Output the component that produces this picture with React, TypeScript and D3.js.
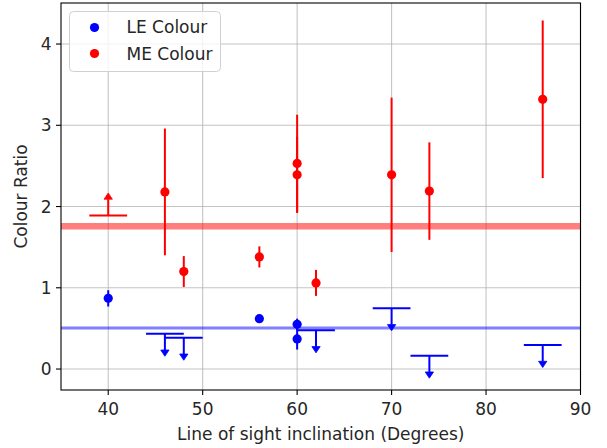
import React from "react";
import * as d3 from "d3";

// LE Colour detections
const leX = [40, 56, 60, 60];
const leY = [0.87, 0.62, 0.55, 0.37];
const leErr = [0.10, 0.04, 0.07, 0.13];
// LE Colour upper limits
const leLimX = [46, 48, 62, 70, 74, 86];
const leLimY = [0.434, 0.385, 0.476, 0.747, 0.164, 0.295];
// ME Colour detections
const meX = [46, 48, 56, 60, 60, 62, 70, 74, 86];
const meY = [2.18, 1.20, 1.38, 2.53, 2.39, 1.06, 2.39, 2.19, 3.32];
const meErr = [0.78, 0.19, 0.13, 0.60, 0.47, 0.16, 0.95, 0.60, 0.97];
// ME Colour lower limits
const meLimX = [40];
const meLimY = [1.89];
const limXErr = 2;
const limYErr = 0.2;
// mean lines
const leMean = 0.505;
const meMean = 1.756;

const xTicks = [40, 50, 60, 70, 80, 90];
const yTicks = [0, 1, 2, 3, 4];
const xDomain = [35, 90];
const yDomain = [-0.258, 4.505];

const W = 607;
const H = 448;
const L = 61, R = 580.5, T = 3, B = 390;
const FONT = "DejaVu Sans, sans-serif";
const FS = 17;
const BLUE = "#0000ff";
const RED = "#ff0000";

export default function App() {
  const x = d3.scaleLinear().domain(xDomain).range([L, R]);
  const y = d3.scaleLinear().domain(yDomain).range([B, T]);
  const tri = (cx: number, by: number, dir: number, s = 8.3) => {
    // base at by, tip pointing dir (-1 up, +1 down)
    const h = 0.75 * s;
    return `M${cx - s / 2},${by}L${cx + s / 2},${by}L${cx},${by + dir * h}Z`;
  };
  return (
    <svg width={W} height={H} style={{ position: "absolute", left: 0, top: 0, background: "#fff" }} fontFamily={FONT}>
      <rect x={0} y={0} width={W} height={H} fill="#fff" />
      {/* grid */}
      {xTicks.map((t) => (
        <line key={"gx" + t} x1={x(t)} x2={x(t)} y1={T} y2={B} stroke="#b0b0b0" strokeOpacity={0.75} strokeWidth={1.1} />
      ))}
      {yTicks.map((t) => (
        <line key={"gy" + t} x1={L} x2={R} y1={y(t)} y2={y(t)} stroke="#b0b0b0" strokeOpacity={0.75} strokeWidth={1.1} />
      ))}
      {/* mean lines */}
      <line x1={L} x2={R} y1={y(meMean)} y2={y(meMean)} stroke={RED} strokeOpacity={0.5} strokeWidth={6.5} />
      <line x1={L} x2={R} y1={y(leMean)} y2={y(leMean)} stroke={BLUE} strokeOpacity={0.5} strokeWidth={3} />
      {/* LE detections */}
      {leX.map((v, i) => (
        <g key={"le" + i}>
          <line x1={x(v)} x2={x(v)} y1={y(leY[i] - leErr[i])} y2={y(leY[i] + leErr[i])} stroke={BLUE} strokeWidth={2} />
          <circle cx={x(v)} cy={y(leY[i])} r={4.6} fill={BLUE} />
        </g>
      ))}
      {/* LE upper limits */}
      {leLimX.map((v, i) => (
        <g key={"lel" + i}>
          <line x1={x(v - limXErr)} x2={x(v + limXErr)} y1={y(leLimY[i])} y2={y(leLimY[i])} stroke={BLUE} strokeWidth={2} />
          <line x1={x(v)} x2={x(v)} y1={y(leLimY[i])} y2={y(leLimY[i] - limYErr)} stroke={BLUE} strokeWidth={2} />
          <path d={tri(x(v), y(leLimY[i] - limYErr), 1)} fill={BLUE} stroke={BLUE} strokeWidth={0.8} />
        </g>
      ))}
      {/* ME detections */}
      {meX.map((v, i) => (
        <g key={"me" + i}>
          <line x1={x(v)} x2={x(v)} y1={y(meY[i] - meErr[i])} y2={y(meY[i] + meErr[i])} stroke={RED} strokeWidth={2} />
          <circle cx={x(v)} cy={y(meY[i])} r={4.6} fill={RED} />
        </g>
      ))}
      {/* ME lower limits */}
      {meLimX.map((v, i) => (
        <g key={"mel" + i}>
          <line x1={x(v - limXErr)} x2={x(v + limXErr)} y1={y(meLimY[i])} y2={y(meLimY[i])} stroke={RED} strokeWidth={2} />
          <line x1={x(v)} x2={x(v)} y1={y(meLimY[i])} y2={y(meLimY[i] + limYErr)} stroke={RED} strokeWidth={2} />
          <path d={tri(x(v), y(meLimY[i] + limYErr), -1)} fill={RED} stroke={RED} strokeWidth={0.8} />
        </g>
      ))}
      {/* spines */}
      <rect x={L} y={T} width={R - L} height={B - T} fill="none" stroke="#000" strokeWidth={1.1} />
      {/* x ticks */}
      {xTicks.map((t) => (
        <g key={"xt" + t}>
          <line x1={x(t)} x2={x(t)} y1={B} y2={B + 5} stroke="#000" strokeWidth={1.1} />
          <text x={x(t)} y={415} textAnchor="middle" fontSize={FS} fill="#262626">{t}</text>
        </g>
      ))}
      {/* y ticks */}
      {yTicks.map((t) => (
        <g key={"yt" + t}>
          <line x1={L - 5} x2={L} y1={y(t)} y2={y(t)} stroke="#000" strokeWidth={1.1} />
          <text x={51.5} y={y(t)} dy="0.36em" textAnchor="end" fontSize={FS} fill="#262626">{t}</text>
        </g>
      ))}
      <text x={(L + R) / 2} y={439.5} textAnchor="middle" fontSize={FS} fill="#262626">Line of sight inclination (Degrees)</text>
      <text transform={`translate(27,${(T + B) / 2}) rotate(-90)`} textAnchor="middle" fontSize={FS} fill="#262626">Colour Ratio</text>
      {/* legend */}
      <rect x={69.5} y={11.5} width={151} height={60} rx={4} fill="#fff" fillOpacity={0.8} stroke="#d0d0d0" strokeWidth={1} />
      <circle cx={94.5} cy={27.5} r={4.6} fill={BLUE} />
      <circle cx={94.5} cy={53.5} r={4.6} fill={RED} />
      <text x={126.5} y={33} fontSize={FS} fill="#262626">LE Colour</text>
      <text x={126.5} y={59.5} fontSize={FS} fill="#262626">ME Colour</text>
    </svg>
  );
}
